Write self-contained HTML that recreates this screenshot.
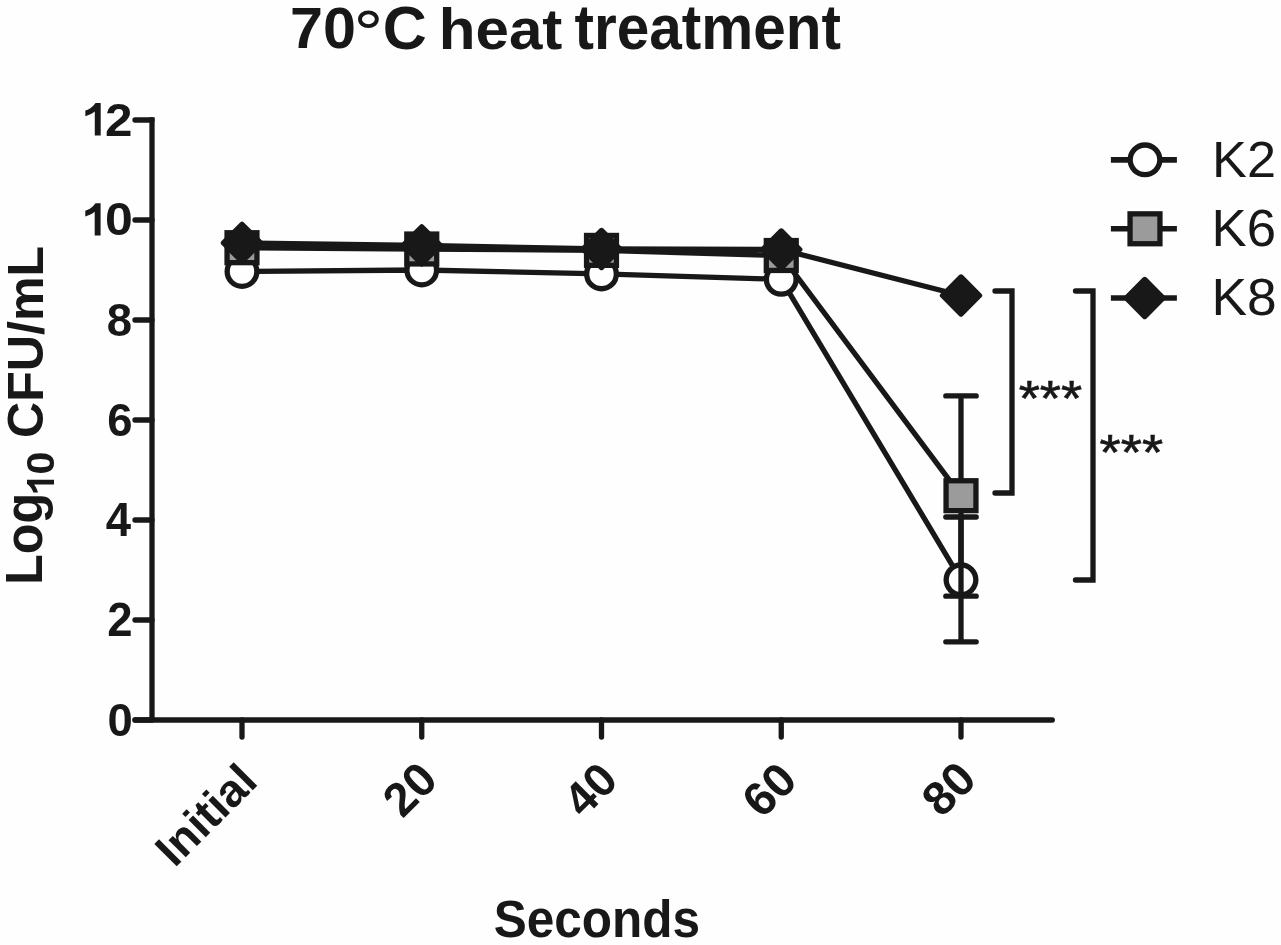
<!DOCTYPE html>
<html><head><meta charset="utf-8"><style>
html,body{margin:0;padding:0;background:#fefefe;width:1281px;height:945px;overflow:hidden}
svg{display:block;filter:grayscale(1)}
text{font-family:"Liberation Sans",sans-serif;fill:#181818}
</style></head><body>
<svg width="1281" height="945" viewBox="0 0 1281 945">
<path d="M135,720H1052.3" fill="none" stroke="#181818" stroke-width="5.3" stroke-linecap="round"/>
<path d="M152,117.35V722" fill="none" stroke="#181818" stroke-width="5.3"/>
<path d="M135,120H152M135,220H152M135,320H152M135,420H152M135,520H152M135,620H152M135,720H152" fill="none" stroke="#181818" stroke-width="5.3" stroke-linecap="round"/>
<path d="M242,720V737M421.75,720V737M601.5,720V737M781.25,720V737M961,720V737" fill="none" stroke="#181818" stroke-width="5.3" stroke-linecap="round"/>
<text transform="matrix(1,0,0,1.025,107.595,735.534)" font-weight="bold" font-size="45.5">0</text>
<text transform="matrix(1,0,0,1.039,107.14,636)" font-weight="bold" font-size="45.5">2</text>
<text transform="matrix(1,0,0,1.054,105.775,536)" font-weight="bold" font-size="45.5">4</text>
<text transform="matrix(1,0,0,1.025,107.14,435.534)" font-weight="bold" font-size="45.5">6</text>
<text transform="matrix(1,0,0,1.025,106.685,335.534)" font-weight="bold" font-size="45.5">8</text>
<path d="M100.6,235.6L94.7,235.6L94.7,211.7C92.2,213.6 88.8,215.4 85.3,216.4L85.3,210.8C88.6,209.6 91.6,207.6 93.2,205.9C94.1,205 94.9,204.1 95.5,203.2L100.6,203.2Z" fill="#181818"/>
<text transform="matrix(1.099,0,0,1.022,105.1,235.335)" font-weight="bold" font-size="45.5">0</text>
<path d="M100.7,135.5L94.782,135.5L94.782,111.526C92.274,113.432 88.864,115.238 85.353,116.241L85.353,110.623C88.663,109.42 91.672,107.414 93.277,105.708C94.18,104.806 94.982,103.903 95.584,103L100.7,103Z" fill="#181818"/>
<text transform="matrix(1.085,0,0,1.02,105.018,135.5)" font-weight="bold" font-size="45.5">2</text>
<polyline points="242,271.5 421.75,270 601.5,273.9 781.25,279.3 961,579.8" fill="none" stroke="#181818" stroke-width="5.3" stroke-linejoin="round"/>
<path d="M961,517V641.8M945.8,517H976.2M945.8,641.8H976.2" fill="none" stroke="#181818" stroke-width="5.3" stroke-linecap="round"/>
<circle cx="242" cy="271.5" r="14.85" fill="#fefefe" stroke="#181818" stroke-width="5.3"/>
<circle cx="421.75" cy="270" r="14.85" fill="#fefefe" stroke="#181818" stroke-width="5.3"/>
<circle cx="601.5" cy="273.9" r="14.85" fill="#fefefe" stroke="#181818" stroke-width="5.3"/>
<circle cx="781.25" cy="279.3" r="14.85" fill="#fefefe" stroke="#181818" stroke-width="5.3"/>
<circle cx="961" cy="579.8" r="14.85" fill="#fefefe" stroke="#181818" stroke-width="5.3"/>
<polyline points="242,247.7 421.75,249 601.5,250.4 781.25,255.5 961,495.7" fill="none" stroke="#181818" stroke-width="5.3" stroke-linejoin="round"/>
<path d="M961,395.9V596.2M945.8,395.9H976.2M945.8,596.2H976.2" fill="none" stroke="#181818" stroke-width="5.3" stroke-linecap="round"/>
<rect x="227.05" y="232.75" width="29.9" height="29.9" fill="#9b9b9b" stroke="#181818" stroke-width="5.3"/>
<rect x="406.8" y="234.05" width="29.9" height="29.9" fill="#9b9b9b" stroke="#181818" stroke-width="5.3"/>
<rect x="586.55" y="235.45" width="29.9" height="29.9" fill="#9b9b9b" stroke="#181818" stroke-width="5.3"/>
<rect x="766.3" y="240.55" width="29.9" height="29.9" fill="#9b9b9b" stroke="#181818" stroke-width="5.3"/>
<rect x="946.05" y="480.75" width="29.9" height="29.9" fill="#9b9b9b" stroke="#181818" stroke-width="5.3"/>
<polyline points="242,242.9 421.75,245.3 601.5,249 781.25,249.5 961,295.5" fill="none" stroke="#181818" stroke-width="5.3" stroke-linejoin="round"/>
<path d="M242,224.35L260.55,242.9L242,261.45L223.45,242.9Z" fill="#181818" stroke="#181818" stroke-width="5.3" stroke-linejoin="round"/>
<path d="M421.75,226.75L440.3,245.3L421.75,263.85L403.2,245.3Z" fill="#181818" stroke="#181818" stroke-width="5.3" stroke-linejoin="round"/>
<path d="M601.5,230.45L620.05,249L601.5,267.55L582.95,249Z" fill="#181818" stroke="#181818" stroke-width="5.3" stroke-linejoin="round"/>
<path d="M781.25,230.95L799.8,249.5L781.25,268.05L762.7,249.5Z" fill="#181818" stroke="#181818" stroke-width="5.3" stroke-linejoin="round"/>
<path d="M961,276.95L979.55,295.5L961,314.05L942.45,295.5Z" fill="#181818" stroke="#181818" stroke-width="5.3" stroke-linejoin="round"/>
<path d="M995,291H1012V493H995" fill="none" stroke="#181818" stroke-width="5.3" stroke-linecap="round"/>
<path d="M1075.5,291H1093V580H1075.5" fill="none" stroke="#181818" stroke-width="5.3" stroke-linecap="round"/>
<text transform="matrix(1.005,0,0,0.926,1018.715,416.4)" font-weight="normal" font-size="54" stroke="#181818" stroke-width="0.7">***</text>
<text transform="matrix(1.006,0,0,0.929,1099.613,470.499)" font-weight="normal" font-size="54" stroke="#181818" stroke-width="0.7">***</text>
<path d="M1110.9,159.85H1176.9" fill="none" stroke="#181818" stroke-width="5.6"/>
<circle cx="1145" cy="159.85" r="14.85" fill="#fefefe" stroke="#181818" stroke-width="5.3"/>
<text transform="matrix(1.024,0,0,0.997,1212.124,176.5)" font-weight="normal" font-size="51">K2</text>
<path d="M1110.9,228.8H1176.9" fill="none" stroke="#181818" stroke-width="5.6"/>
<rect x="1130.05" y="213.85" width="29.9" height="29.9" fill="#9b9b9b" stroke="#181818" stroke-width="5.3"/>
<text transform="matrix(1.034,0,0,1.022,1211.582,245.779)" font-weight="normal" font-size="51">K6</text>
<path d="M1110.9,298.0H1176.9" fill="none" stroke="#181818" stroke-width="5.6"/>
<path d="M1144.7,279.45L1163.25,298L1144.7,316.55L1126.15,298Z" fill="#181818" stroke="#181818" stroke-width="5.3" stroke-linejoin="round"/>
<text transform="matrix(1.045,0,0,1.005,1211.538,314.587)" font-weight="normal" font-size="51">K8</text>
<text transform="matrix(0.997,0,0,0.971,290.027,48.323)" font-weight="bold" font-size="59.5">70</text>
<ellipse cx="368.4" cy="19.25" rx="8.4" ry="6.9" fill="none" stroke="#181818" stroke-width="3.9"/>
<text transform="matrix(1.023,0,0,1.018,382.766,48.694)" font-weight="bold" font-size="59.5">C</text>
<text transform="matrix(1.011,0,0,0.963,438.689,48.727)" font-weight="bold" font-size="59.5">heat</text>
<text transform="matrix(0.983,0,0,1.059,574.515,48.67)" font-weight="bold" font-size="59.5">treatment</text>
<text transform="matrix(0.991,0,0,1.03,493.714,937.185)" font-weight="bold" font-size="50">Seconds</text>
<text transform="matrix(0,-1.005,1.02,0,42.29,584.816)" font-weight="bold" font-size="50">Log</text>
<path d="M54,479.7L54,484.617L34.083,484.617C35.667,486.7 37.167,489.533 38,492.45L33.333,492.45C32.333,489.7 30.667,487.2 29.25,485.867C28.5,485.117 27.75,484.45 27,483.95L27,479.7Z" fill="#181818"/>
<text transform="matrix(0,-1.081,1.001,0,53.62,474.543)" font-weight="bold" font-size="38">0</text>
<text transform="matrix(0,-1.003,1.016,0,42.892,438.005)" font-weight="bold" font-size="50">CFU/mL</text>
<text text-anchor="end" font-weight="bold" font-size="46.0" transform="translate(259.5,783.5) rotate(-45)">Initial</text>
<text text-anchor="end" font-weight="bold" font-size="47.3" transform="translate(439.75,782.15) rotate(-45)">20</text>
<text text-anchor="end" font-weight="bold" font-size="46.8" transform="translate(620.1,782.4) rotate(-45)">40</text>
<text text-anchor="end" font-weight="bold" font-size="47.3" transform="translate(799.25,782.6) rotate(-45)">60</text>
<text text-anchor="end" font-weight="bold" font-size="47.3" transform="translate(978.65,781.6) rotate(-45)">80</text>
</svg>
</body></html>
